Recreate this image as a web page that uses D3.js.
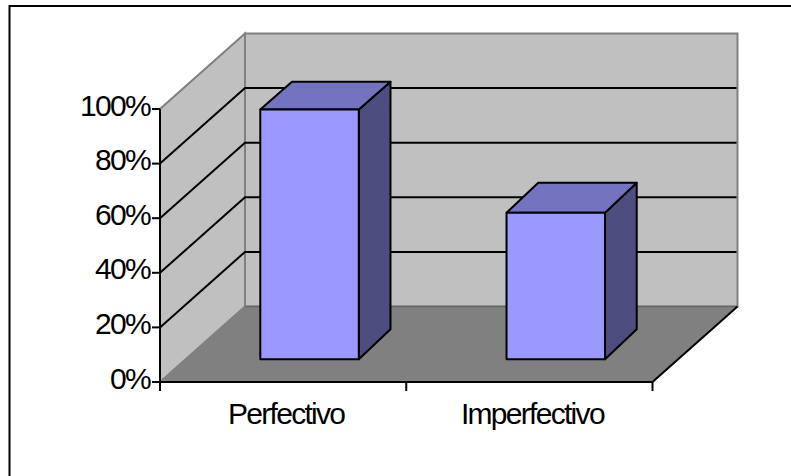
<!DOCTYPE html>
<html><head><meta charset="utf-8">
<script src="https://cdn.jsdelivr.net/npm/d3@7/dist/d3.min.js"></script>
<style>html,body{margin:0;padding:0;background:#fff}svg{display:block}
text{font-family:"Liberation Sans",Arial,sans-serif;fill:#000}</style></head>
<body><div id="chart"></div>
<script>
const categories = ["Perfectivo", "Imperfectivo"];
const values = [91.5, 53.7];
const yTicks = [0, 20, 40, 60, 80, 100];

const W = 791, H = 476;
const svg = d3.select("#chart").append("svg").attr("width", W).attr("height", H);

// Frame: only its top and left edges fall inside the picture
svg.append("polyline").attr("points", "9.5,476 9.5,6 791,6")
  .attr("fill", "none").attr("stroke", "#000").attr("stroke-width", 2);

// Front plane scales
const y = d3.scaleLinear().domain([0, 100]).range([382, 109]);
const x = d3.scaleBand().domain(categories).range([160, 652.5]);
const depthX = 85, depthY = -75.5;
const barDepthX = 31.7, barDepthY = -30;
const barShiftX = 26.4, barShiftY = -22.7;
const barW = 98.5;
const barCeil = 81.7;

const poly = pts => pts.map(p => p.join(",")).join(" ");
const g = svg.append("g");

// Walls
const xL = x.range()[0], xR = x.range()[1];
const y0 = y(0), yT = y(100);
g.append("polygon").attr("points", poly([[xL,y0],[xL,yT],[xL+depthX,yT+depthY],[xL+depthX,y0+depthY]]))
  .attr("fill", "#c0c0c0").attr("stroke", "#808080").attr("stroke-width", 2);
g.append("polygon").attr("points", poly([[xL+depthX,y0+depthY],[xL+depthX,yT+depthY],[xR+depthX,yT+depthY],[xR+depthX,y0+depthY]]))
  .attr("fill", "#c0c0c0").attr("stroke", "#808080").attr("stroke-width", 2);
g.append("polygon").attr("points", poly([[xL,y0],[xL+depthX,y0+depthY],[xR+depthX,y0+depthY],[xR,y0]]))
  .attr("fill", "#808080").attr("stroke", "none");
g.append("line").attr("x1", xL+depthX).attr("x2", xR+depthX).attr("y1", y0+depthY).attr("y2", y0+depthY)
  .attr("stroke", "#666").attr("stroke-width", 1.5);

// Gridlines
yTicks.filter(t => t > 0 && t < 100).forEach(t => {
  g.append("polyline").attr("fill", "none").attr("stroke", "#000").attr("stroke-width", 2)
    .attr("points", poly([[xL,y(t)],[xL+depthX,y(t)+depthY],[xR+depthX-1,y(t)+depthY]]));
});

// Floor front edge
g.append("line").attr("x1", xR).attr("y1", y0).attr("x2", xR+depthX).attr("y2", y0+depthY)
  .attr("stroke", "#000").attr("stroke-width", 2);

// Bars
const barG = svg.append("g").attr("stroke", "#000").attr("stroke-width", 2).attr("stroke-linejoin", "round");
categories.forEach((c, i) => {
  const bx = x(c) + (x.bandwidth() - barW) / 2 + barShiftX;
  const by0 = y(0) + barShiftY;
  const h = y(0) - y(values[i]);
  const by1 = by0 - h;
  const backTop = Math.max(by1 + barDepthY, barCeil);
  barG.append("polygon").attr("fill", "#4d4d80").attr("points", poly([[bx+barW,by0],[bx+barW,by1],[bx+barW+barDepthX,backTop],[bx+barW+barDepthX,by0+barDepthY]]));
  barG.append("polygon").attr("fill", "#7373bf").attr("points", poly([[bx,by1],[bx+barDepthX,backTop],[bx+barW+barDepthX,backTop],[bx+barW,by1]]));
  barG.append("rect").attr("fill", "#9999ff").attr("x", bx).attr("y", by1).attr("width", barW).attr("height", h);
});

// Axes
const axG = svg.append("g").attr("stroke", "#000").attr("stroke-width", 2);
axG.append("line").attr("x1", xL).attr("x2", xL).attr("y1", yT).attr("y2", y0+9);
axG.append("line").attr("x1", xL).attr("x2", xR).attr("y1", y0).attr("y2", y0);
yTicks.forEach(t => axG.append("line").attr("x1", xL-8).attr("x2", xL).attr("y1", y(t)).attr("y2", y(t)));
[xL, xL + x.step(), xR].forEach(v => axG.append("line").attr("x1", v).attr("x2", v).attr("y1", y0).attr("y2", y0+9));

// Labels
const fs = 30, ls = "-1.7px";
svg.append("g").selectAll("text").data(yTicks).join("text")
  .attr("x", 150).attr("y", d => y(d)+6.5).attr("text-anchor", "end")
  .style("font-size", fs+"px").style("letter-spacing", ls).text(d => d + "%");
svg.append("g").selectAll("text").data(categories).join("text")
  .attr("x", d => x(d) + x.bandwidth()/2 + 3).attr("y", 424).attr("text-anchor", "middle")
  .style("font-size", fs+"px").style("letter-spacing", ls).text(d => d);
</script></body></html>
